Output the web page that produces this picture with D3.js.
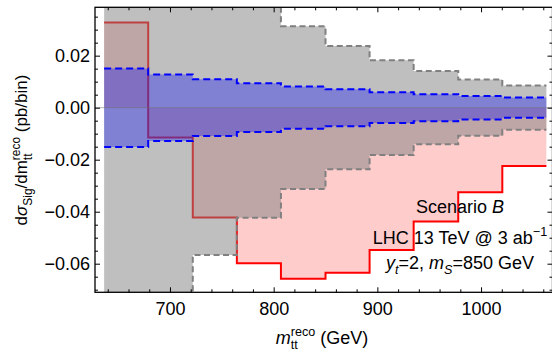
<!DOCTYPE html>
<html>
<head>
<meta charset="utf-8">
<script src="https://cdn.jsdelivr.net/npm/d3@7"></script>
<style>
  body { margin: 0; background: #fff; }
  svg { display: block; }
  text { font-family: "Liberation Sans", Arial, Helvetica, sans-serif; fill: #000; white-space: pre; }
</style>
</head>
<body>
<svg id="chart" width="552" height="351"></svg>
<script>
// Reconstructed m_tt bins (GeV edges) and per-bin values
const binEdges = [636.5, 679, 722, 764.5, 807, 850, 892.5, 935, 978, 1020.5, 1063];
const signal   = [0.0328, -0.0115, -0.0422, -0.0598, -0.0658, -0.0635, -0.0547, -0.0438, -0.0325, -0.0224];
const totalUnc = [0.095, 0.078, 0.0567, 0.0423, 0.0313, 0.0237, 0.0182, 0.0141, 0.0108, 0.0085];
const statUnc  = [0.0151, 0.0128, 0.0109, 0.0094, 0.0081, 0.0071, 0.0059, 0.0052, 0.0045, 0.0039];

const xTickValues = [700, 800, 900, 1000];
const yTickValues = [-0.06, -0.04, -0.02, 0, 0.02];
const yTickLabels = ["\u22120.06", "\u22120.04", "\u22120.02", "0.00", "0.02"];

const svg = d3.select("#chart");
const plot = { left: 95, right: 552.5, top: 7.3, bottom: 292.3 };
const FS = 18;

const x = d3.scaleLinear().domain([627.7, 1068.9]).range([plot.left, plot.right]);
const y = d3.scaleLinear().domain([-0.0710, 0.0386]).range([plot.bottom, plot.top]);

// step points: one per bin edge, last value repeated at the closing edge
const steps = vals => binEdges.map((e, i) => ({ x: e, v: vals[Math.min(i, vals.length - 1)] }));

svg.append("clipPath").attr("id", "plotClip")
  .append("rect")
  .attr("x", plot.left).attr("y", plot.top)
  .attr("width", plot.right - plot.left).attr("height", plot.bottom - plot.top);

const layer = svg.append("g").attr("clip-path", "url(#plotClip)");

// signal histogram: filled down to zero
const sig = steps(signal);
layer.append("path")
  .attr("d", d3.area().x(d => x(d.x)).y0(y(0)).y1(d => y(d.v)).curve(d3.curveStepAfter)(sig))
  .attr("fill", "rgb(255,0,0)").attr("fill-opacity", 0.2);
layer.append("path")
  .attr("d", d3.line().x(d => x(d.x)).y(d => y(d.v)).curve(d3.curveStepAfter)(sig))
  .attr("fill", "none").attr("stroke", "#ff0000").attr("stroke-width", 2);

// symmetric band helper
function band(vals, fill, fillOpacity, stroke, dash) {
  const pts = steps(vals);
  layer.append("path")
    .attr("d", d3.area().x(d => x(d.x)).y0(d => y(-d.v)).y1(d => y(d.v)).curve(d3.curveStepAfter)(pts))
    .attr("fill", fill).attr("fill-opacity", fillOpacity);
  [1, -1].forEach(s => {
    layer.append("path")
      .attr("d", d3.line().x(d => x(d.x)).y(d => y(s * d.v)).curve(d3.curveStepAfter)(pts))
      .attr("fill", "none").attr("stroke", stroke).attr("stroke-width", 2)
      .attr("stroke-dasharray", dash);
  });
}

band(totalUnc, "rgb(128,128,128)", 0.5, "#808080", "6,3.5");
band(statUnc, "rgb(0,0,255)", 0.32, "#0000ff", "7,4");

// zero line
layer.append("line")
  .attr("x1", plot.left).attr("x2", plot.right)
  .attr("y1", y(0)).attr("y2", y(0))
  .attr("stroke", "#707070").attr("stroke-opacity", 0.5).attr("stroke-width", 1);

// frame
svg.append("rect")
  .attr("x", plot.left).attr("y", plot.top)
  .attr("width", plot.right - plot.left).attr("height", plot.bottom - plot.top)
  .attr("fill", "none").attr("stroke", "#000").attr("stroke-width", 1.3);

// ticks
const xMinor = d3.range(640, 1061, 20).filter(v => v % 100 !== 0);
const yMinor = d3.range(-14, 8).filter(i => i % 4 !== 0).map(i => i * 0.005);

function ticks(axisFn, scale, values, size, transform, labels, padding) {
  const a = axisFn(scale).tickValues(values).tickSizeInner(-size).tickSizeOuter(0);
  if (labels) a.tickFormat((d, i) => labels[i]).tickPadding(padding);
  else a.tickFormat("");
  const g = svg.append("g").attr("transform", transform).call(a);
  g.select(".domain").remove();
  g.selectAll(".tick line").attr("stroke", "#000").attr("stroke-width", 1);
  g.selectAll("text").attr("font-size", FS)
    .style("font-family", "'Liberation Sans', Arial, Helvetica, sans-serif");
  return g;
}

ticks(d3.axisBottom, x, xTickValues, 5, `translate(0,${plot.bottom})`, xTickValues.map(String), 10);
ticks(d3.axisBottom, x, xMinor, 3, `translate(0,${plot.bottom})`);
ticks(d3.axisTop, x, xTickValues, 5, `translate(0,${plot.top})`);
ticks(d3.axisTop, x, xMinor, 3, `translate(0,${plot.top})`);
ticks(d3.axisLeft, y, yTickValues, 5, `translate(${plot.left},0)`, yTickLabels, 5);
ticks(d3.axisLeft, y, yMinor, 3, `translate(${plot.left},0)`);
ticks(d3.axisRight, y, yTickValues, 5, `translate(${plot.right},0)`);
ticks(d3.axisRight, y, yMinor, 3, `translate(${plot.right},0)`);

// rich text: runs with italics, subscripts, superscripts and stacked sub/sup
function rich(parent, pieces, size) {
  const g = parent.append("g");
  const small = size * 0.7, subY = size * 0.3, supY = -size * 0.42;
  let cx = 0;
  pieces.forEach(p => {
    if (p.stack) {
      const a = g.append("text").attr("x", cx).attr("y", subY).attr("font-size", small).text(p.sub);
      const b = g.append("text").attr("x", cx).attr("y", supY).attr("font-size", small).text(p.sup);
      cx += Math.max(a.node().getComputedTextLength(), b.node().getComputedTextLength());
    } else {
      const fs = (p.sub || p.sup) ? small : size;
      const yy = p.sub ? subY : p.sup ? supY : 0;
      const t = g.append("text").attr("x", cx).attr("y", yy).attr("font-size", fs)
        .attr("font-style", p.it ? "italic" : null).text(p.t);
      cx += t.node().getComputedTextLength();
    }
  });
  return { g, width: cx };
}

// axis titles
const yl = rich(svg, [
  { t: "d" }, { t: "\u03c3", it: true }, { t: "Sig", sub: true }, { t: "/dm" },
  { stack: true, sub: "tt", sup: "reco" }, { t: " (pb/bin)" }
], 17);
yl.g.attr("transform", `translate(27,150) rotate(-90) translate(${-yl.width / 2},0)`);

const xl = rich(svg, [
  { t: "m", it: true }, { stack: true, sub: "tt", sup: "reco" }, { t: " (GeV)" }
], FS);
xl.g.attr("transform", `translate(${(plot.left + 549) / 2 - xl.width / 2},343.5)`);

// annotation block
const notes = [
  { y: 213, pieces: [{ t: "Scenario " }, { t: "B", it: true }] },
  { y: 244, pieces: [{ t: "LHC 13 TeV @ 3 ab" }, { t: "\u22121", sup: true }] },
  { y: 269, pieces: [{ t: "y", it: true }, { t: "t", it: true, sub: true }, { t: "=2, " },
                     { t: "m", it: true }, { t: "S", it: true, sub: true }, { t: "=850 GeV" }] }
];
notes.forEach(n => {
  const r = rich(svg, n.pieces, FS);
  r.g.attr("transform", `translate(${460 - r.width / 2},${n.y})`);
});
</script>
</body>
</html>
